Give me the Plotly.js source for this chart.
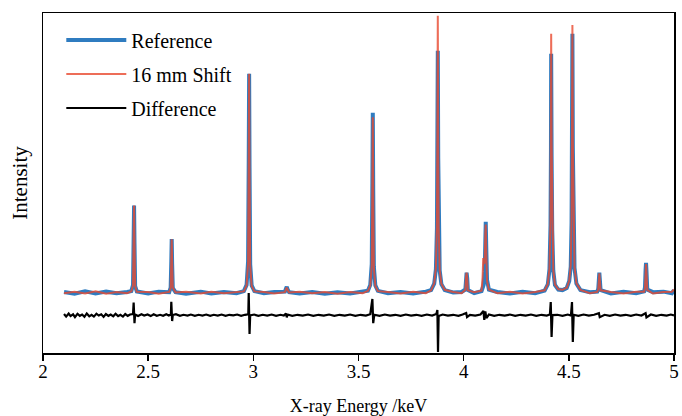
<!DOCTYPE html>
<html>
<head>
<meta charset="utf-8">
<script src="https://cdn.plot.ly/plotly-3.0.1.min.js"></script>
<style>html,body{margin:0;padding:0;background:#fff;}#chart{width:682px;height:416px;}</style>
</head>
<body>
<div id="chart"></div>
<script>
// ---- Data (energy in keV, intensity in arbitrary units) ----
var refEnergy = [2.100,2.150,2.200,2.250,2.300,2.350,2.400,2.420,2.428,2.431,2.433,2.435,2.438,2.446,
  2.500,2.550,2.600,2.607,2.610,2.612,2.614,2.617,2.630,2.680,2.750,2.800,2.860,2.920,
  2.955,2.968,2.975,2.978,2.980,2.982,2.985,2.992,3.005,3.050,3.100,3.150,3.155,3.159,3.163,3.170,
  3.220,3.280,3.340,3.400,3.460,3.520,3.545,3.556,3.563,3.566,3.568,3.570,3.573,3.580,3.592,
  3.640,3.700,3.760,3.820,3.845,3.860,3.868,3.873,3.875,3.877,3.879,3.881,3.886,3.894,3.910,
  3.950,3.990,4.008,4.011,4.014,4.017,4.020,4.050,4.085,4.095,4.100,4.103,4.105,4.107,4.111,4.120,
  4.160,4.220,4.280,4.340,4.385,4.400,4.408,4.413,4.415,4.416,4.418,4.421,4.426,4.434,4.450,
  4.470,4.490,4.502,4.509,4.513,4.515,4.517,4.519,4.522,4.527,4.536,4.555,4.600,
  4.635,4.640,4.643,4.645,4.647,4.651,4.700,4.760,4.820,4.858,4.862,4.865,4.867,4.869,4.873,
  4.900,4.950,4.990,5.000];
var refIntensity = [0.003,-0.004,0.005,-0.003,0.004,-0.002,0.003,0.006,0.030,0.200,0.335,0.190,0.025,0.005,
  -0.003,0.004,0.002,0.020,0.120,0.206,0.110,0.018,0.002,-0.004,0.004,-0.003,0.003,-0.002,
  0.006,0.030,0.120,0.500,0.842,0.480,0.110,0.028,0.006,-0.002,0.003,0.004,0.015,0.023,0.012,0.002,
  -0.003,0.003,-0.004,0.002,-0.003,0.004,0.008,0.030,0.110,0.420,0.692,0.400,0.100,0.028,0.007,
  -0.002,0.003,-0.003,0.004,0.010,0.035,0.090,0.250,0.550,0.931,0.520,0.230,0.085,0.033,0.010,
  0.001,0.003,0.012,0.060,0.077,0.055,0.010,-0.002,0.006,0.030,0.080,0.200,0.273,0.190,0.050,0.012,
  0.003,-0.003,0.004,-0.002,0.008,0.032,0.090,0.260,0.550,0.919,0.530,0.240,0.085,0.030,0.012,
  0.010,0.018,0.045,0.100,0.270,0.560,0.996,0.560,0.260,0.095,0.035,0.010,0.002,
  0.004,0.015,0.060,0.077,0.055,0.010,-0.003,0.004,-0.002,0.005,0.020,0.090,0.115,0.085,0.012,
  0.002,0.004,-0.002,0.010];

var shiftEnergy = [2.100,2.150,2.200,2.250,2.300,2.350,2.400,2.420,2.428,2.431,2.433,2.435,2.438,2.446,
  2.500,2.550,2.600,2.607,2.610,2.612,2.614,2.617,2.630,2.680,2.750,2.800,2.860,2.920,
  2.955,2.968,2.975,2.978,2.980,2.982,2.985,2.992,3.005,3.050,3.100,3.150,3.155,3.159,3.163,3.170,
  3.220,3.280,3.340,3.400,3.460,3.520,3.545,3.556,3.563,3.566,3.568,3.570,3.573,3.580,3.592,
  3.640,3.700,3.760,3.820,3.845,3.860,3.868,3.873,3.875,3.877,3.879,3.881,3.886,3.894,3.910,
  3.950,3.990,4.008,4.011,4.014,4.017,4.020,4.050,4.085,4.090,4.093,4.097,4.100,4.103,4.105,4.107,4.111,4.120,
  4.160,4.220,4.280,4.340,4.385,4.400,4.408,4.413,4.415,4.416,4.418,4.421,4.426,4.434,4.450,
  4.470,4.490,4.502,4.509,4.513,4.515,4.517,4.519,4.522,4.527,4.536,4.555,4.600,
  4.635,4.640,4.643,4.645,4.647,4.651,4.700,4.760,4.820,4.858,4.862,4.865,4.867,4.869,4.873,
  4.900,4.950,4.990,5.000];
var shiftIntensity = [-0.002,0.004,-0.003,0.005,-0.004,0.003,-0.002,0.005,0.028,0.195,0.335,0.200,0.027,0.004,
  0.003,-0.004,0.003,0.018,0.115,0.206,0.120,0.020,0.001,0.004,-0.003,0.004,-0.002,0.003,
  0.005,0.028,0.115,0.510,0.842,0.470,0.105,0.026,0.005,0.003,-0.003,0.002,0.013,0.020,0.011,0.001,
  0.004,-0.002,0.003,-0.004,0.003,-0.002,0.007,0.028,0.105,0.410,0.675,0.390,0.095,0.026,0.006,
  0.003,-0.003,0.004,-0.002,0.009,0.036,0.095,0.270,0.600,1.065,0.580,0.250,0.088,0.034,0.011,
  0.003,-0.002,0.011,0.058,0.077,0.054,0.009,0.002,0.008,0.060,0.133,0.110,0.120,0.230,0.262,0.170,0.045,0.012,
  -0.002,0.004,-0.003,0.003,0.009,0.034,0.095,0.280,0.600,0.996,0.580,0.250,0.088,0.031,0.013,
  0.011,0.019,0.047,0.105,0.285,0.600,1.030,0.590,0.270,0.098,0.036,0.011,-0.002,
  0.003,0.014,0.058,0.075,0.053,0.009,0.003,-0.003,0.004,0.004,0.018,0.085,0.110,0.080,0.011,
  -0.003,0.003,0.004,0.012];

var diffEnergy = [2.100,2.110,2.122,2.131,2.143,2.152,2.164,2.175,2.186,2.197,2.208,2.220,2.231,2.242,
  2.254,2.265,2.277,2.288,2.299,2.311,2.322,2.334,2.345,2.357,2.368,2.380,2.391,2.403,2.414,
  2.428,2.431,2.435,2.438,2.452,2.468,2.481,2.497,2.512,2.526,2.541,2.557,2.571,2.586,2.598,
  2.608,2.610,2.614,2.617,2.632,2.651,2.668,2.687,2.703,2.722,2.740,2.758,2.776,2.795,2.812,
  2.831,2.849,2.868,2.886,2.905,2.923,2.942,2.960,2.976,2.978,2.982,2.985,3.004,3.024,3.045,
  3.066,3.087,3.108,3.129,3.145,3.155,3.159,3.163,3.185,3.210,3.235,3.260,3.285,3.310,3.335,
  3.360,3.385,3.410,3.435,3.460,3.485,3.510,3.535,3.556,3.566,3.570,3.575,3.600,3.625,3.650,
  3.675,3.700,3.725,3.750,3.775,3.800,3.825,3.850,3.870,3.875,3.878,3.881,3.900,3.925,3.950,
  3.975,3.995,4.012,4.016,4.030,4.055,4.080,4.094,4.098,4.103,4.108,4.120,4.145,4.170,4.195,
  4.220,4.245,4.270,4.295,4.320,4.345,4.370,4.395,4.410,4.414,4.418,4.422,4.445,4.470,4.495,
  4.510,4.515,4.519,4.523,4.545,4.570,4.595,4.620,4.643,4.647,4.670,4.695,4.720,4.745,4.770,
  4.795,4.820,4.845,4.865,4.869,4.890,4.915,4.940,4.965,4.985,5.000];
var diffIntensity = [-0.082,-0.092,-0.080,-0.090,-0.083,-0.094,-0.081,-0.089,-0.084,-0.093,-0.080,-0.091,-0.085,-0.092,
  -0.081,-0.088,-0.083,-0.093,-0.082,-0.089,-0.084,-0.091,-0.081,-0.090,-0.085,-0.092,-0.082,-0.089,-0.084,
  -0.082,-0.038,-0.117,-0.084,-0.090,-0.083,-0.088,-0.084,-0.090,-0.083,-0.089,-0.085,-0.089,-0.083,-0.088,
  -0.084,-0.035,-0.109,-0.086,-0.083,-0.089,-0.085,-0.088,-0.084,-0.089,-0.085,-0.088,-0.084,-0.089,-0.085,
  -0.088,-0.084,-0.089,-0.085,-0.087,-0.084,-0.089,-0.085,-0.083,-0.001,-0.159,-0.087,-0.084,-0.089,-0.085,
  -0.088,-0.084,-0.089,-0.085,-0.088,-0.080,-0.095,-0.084,-0.089,-0.085,-0.088,-0.084,-0.089,-0.085,-0.088,
  -0.084,-0.089,-0.085,-0.088,-0.084,-0.089,-0.085,-0.088,-0.083,-0.024,-0.117,-0.085,-0.089,-0.084,-0.088,
  -0.085,-0.089,-0.084,-0.088,-0.085,-0.089,-0.084,-0.088,-0.082,-0.067,-0.228,-0.090,-0.084,-0.088,-0.085,
  -0.089,-0.084,-0.078,-0.094,-0.085,-0.088,-0.084,-0.070,-0.105,-0.072,-0.098,-0.084,-0.089,-0.085,-0.088,
  -0.084,-0.089,-0.085,-0.088,-0.084,-0.089,-0.085,-0.088,-0.084,-0.036,-0.170,-0.086,-0.085,-0.089,-0.084,
  -0.088,-0.036,-0.190,-0.085,-0.089,-0.084,-0.088,-0.085,-0.079,-0.094,-0.085,-0.089,-0.084,-0.088,-0.085,
  -0.089,-0.084,-0.088,-0.079,-0.095,-0.084,-0.089,-0.085,-0.088,-0.084,-0.087];

var seriesNames = ['Reference', '16 mm Shift', 'Difference'];
var xTickVals = [2, 2.5, 3, 3.5, 4, 4.5, 5];
var xTickText = ['2', '2.5', '3', '3.5', '4', '4.5', '5'];

var FONT = 'Liberation Serif';

var traces = [
  {x: refEnergy, y: refIntensity, name: seriesNames[0], type: 'scatter', mode: 'lines',
   legendgroup: 'a', line: {color: '#2f7cc0', width: 4}},
  {x: shiftEnergy, y: shiftIntensity, name: seriesNames[1], type: 'scatter', mode: 'lines',
   legendgroup: 'b', opacity: 0.8, line: {color: '#e8482e', width: 2}},
  {x: diffEnergy, y: diffIntensity, name: seriesNames[2], type: 'scatter', mode: 'lines',
   legendgroup: 'c', line: {color: '#000000', width: 2.2}}
];

var layout = {
  width: 682, height: 416,
  margin: {l: 43, r: 8, t: 13, b: 63},
  paper_bgcolor: '#ffffff', plot_bgcolor: '#ffffff',
  font: {family: FONT, color: '#000000', size: 18},
  showlegend: true,
  legend: {x: 0.029, y: 0.978, xanchor: 'left', yanchor: 'top', bgcolor: 'rgba(0,0,0,0)',
           font: {family: FONT, size: 20, color: '#000'}, itemwidth: 60, tracegroupgap: 5,
           traceorder: 'grouped'},
  xaxis: {range: [2, 5], tickmode: 'array', tickvals: xTickVals, ticktext: xTickText,
          ticks: 'outside', ticklen: 6, tickwidth: 1.5, tickcolor: '#000', ticklabelstandoff: -5,
          showline: true, mirror: true, linecolor: '#000', linewidth: 1.5,
          showgrid: false, zeroline: false, tickfont: {family: FONT, size: 19, color: '#000'},
          title: {text: 'X-ray Energy /keV', font: {family: FONT, size: 18, color: '#000'}, standoff: 20}},
  yaxis: {range: [-0.232, 1.076], showticklabels: false, ticks: '',
          showline: true, mirror: true, linecolor: '#000', linewidth: 1.5,
          showgrid: false, zeroline: false,
          title: {text: 'Intensity', font: {family: FONT, size: 21, color: '#000'}, standoff: 8}}
};

Plotly.newPlot('chart', traces, layout, {displayModeBar: false, staticPlot: true});
</script>
</body>
</html>
